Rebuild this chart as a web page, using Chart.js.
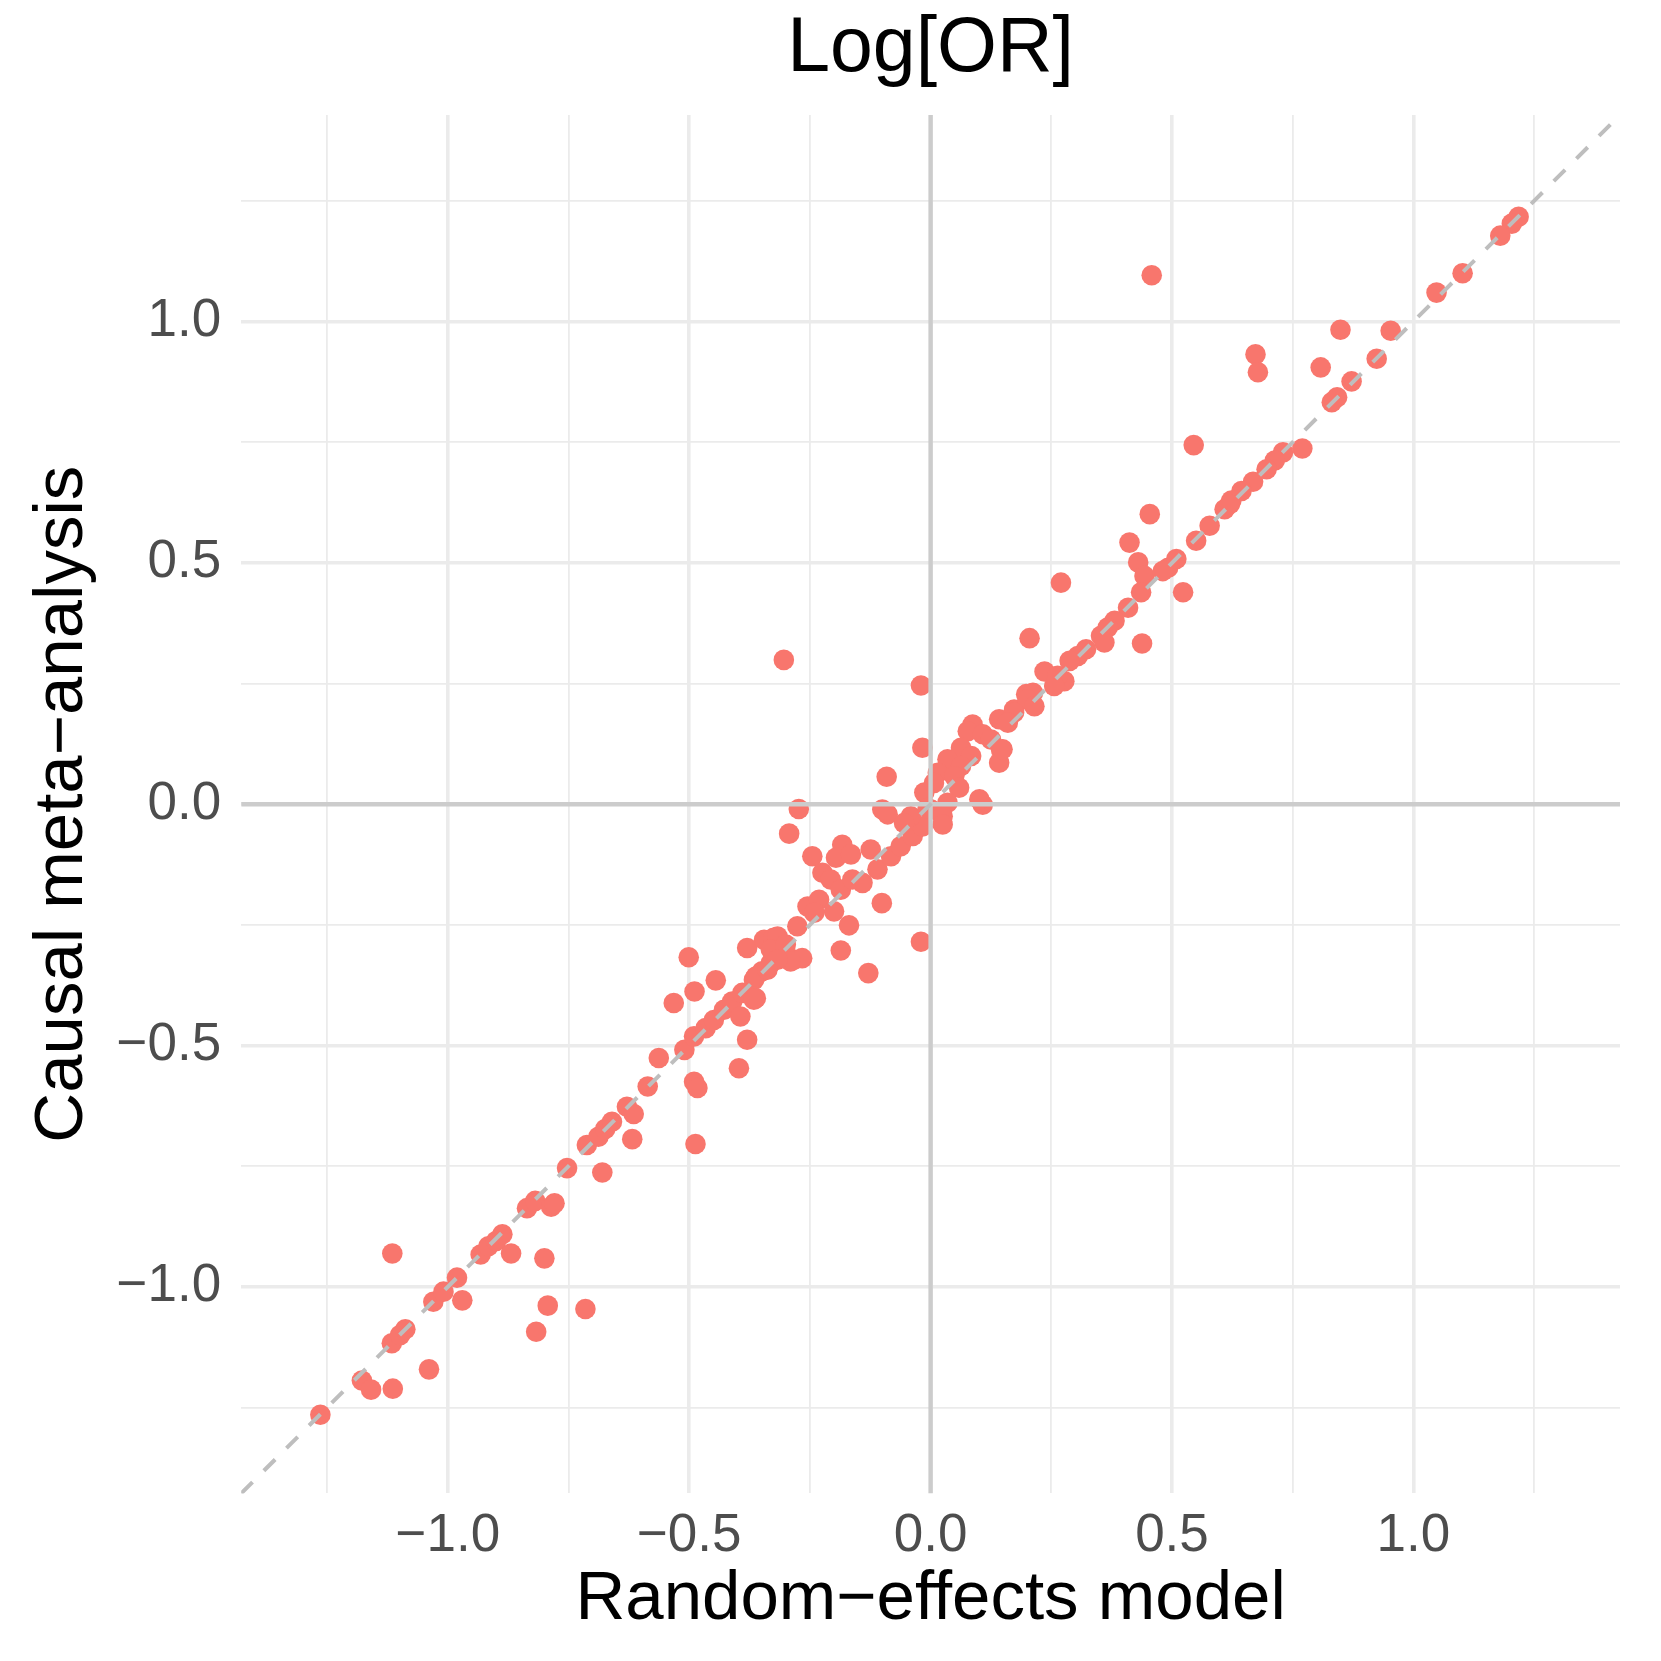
<!DOCTYPE html>
<html><head><meta charset="utf-8">
<script src="https://cdn.jsdelivr.net/npm/chart.js@4.4.0/dist/chart.umd.min.js"></script>
<style>html,body{margin:0;padding:0;background:#fff;}#wrap{width:1661px;height:1661px;}</style>
</head><body><div id="wrap"><canvas id="c" width="1661" height="1661"></canvas></div>
<script>
// Random-effects model estimates (x) and causal meta-analysis estimates (y), Log[OR]
const randomEffects = [
-1.264,-1.178,-1.159,-1.114,-1.115,-1.039,-1.116,-1.099,-1.088,-1.030,-1.009,-0.981,-0.970,-0.932,-0.916,-0.900,-0.887,-0.869,-0.836,-0.819,-0.786,-0.779,-0.800,-0.793,-0.817,-0.715,-0.753,-0.712,
-0.680,-0.688,-0.674,-0.660,-0.629,-0.615,-0.618,-0.586,-0.563,-0.532,-0.501,-0.489,-0.445,-0.510,-0.490,-0.466,-0.449,-0.490,-0.483,-0.487,-0.397,-0.380,-0.428,-0.411,-0.394,-0.390,-0.366,-0.366,-0.349,-0.331,-0.380,-0.345,-0.325,-0.311,-0.283,
-0.273,-0.293,-0.245,-0.183,-0.196,-0.165,-0.124,-0.100,-0.089,-0.091,-0.224,-0.207,-0.186,-0.162,-0.141,-0.110,-0.082,-0.062,-0.037,-0.017,0.001,-0.013,-0.255,-0.231,-0.200,-0.169,-0.101,-0.186,-0.129,-0.020,-0.317,-0.331,-0.300,-0.266,-0.290,-0.362,-0.362,-0.317,-0.338,-0.276,-0.241,
-0.020,-0.017,0.087,0.077,0.142,0.173,0.198,0.108,0.125,0.146,0.142,0.063,0.084,0.035,0.063,0.015,0.049,0.007,0.059,0.035,0.108,0.101,-0.041,-0.006,0.025,0.025,-0.055,
0.454,0.412,0.430,0.443,0.436,0.409,0.270,0.205,0.438,0.523,0.492,0.509,0.481,0.550,0.578,0.609,0.623,0.381,0.367,0.353,0.360,0.322,0.305,0.288,0.236,0.277,0.263,0.256,0.212,0.201,0.215,0.173,0.160,0.149,
1.218,1.204,1.180,1.102,1.048,0.953,0.849,0.924,0.872,0.842,0.831,0.808,0.673,0.678,0.545,0.770,0.730,0.713,0.696,0.668,0.644,0.620,0.458,-0.304
];
const causalMeta = [
-1.265,-1.194,-1.213,-1.211,-0.931,-1.171,-1.117,-1.100,-1.088,-1.031,-1.010,-0.981,-1.028,-0.933,-0.916,-0.905,-0.891,-0.931,-0.837,-0.822,-0.834,-0.827,-0.941,-1.039,-1.093,-1.046,-0.754,-0.706,
-0.763,-0.689,-0.673,-0.658,-0.627,-0.642,-0.694,-0.585,-0.526,-0.412,-0.317,-0.388,-0.365,-0.509,-0.481,-0.464,-0.447,-0.575,-0.588,-0.704,-0.547,-0.488,-0.426,-0.409,-0.440,-0.391,-0.405,-0.364,-0.346,-0.329,-0.298,-0.281,-0.277,-0.315,-0.322,
-0.010,-0.061,-0.108,-0.084,-0.111,-0.104,-0.094,-0.011,-0.021,0.057,-0.142,-0.156,-0.177,-0.156,-0.163,-0.135,-0.108,-0.087,-0.066,-0.046,-0.011,0.024,-0.212,-0.198,-0.222,-0.251,-0.205,-0.303,-0.350,-0.285,-0.274,-0.301,-0.291,-0.319,-0.326,-0.357,-0.402,-0.322,-0.343,-0.253,-0.225,
0.246,0.117,0.165,0.151,0.176,0.196,0.228,0.145,0.134,0.113,0.086,0.117,0.100,0.093,0.079,0.065,0.058,0.044,0.034,0.003,-0.001,0.010,-0.025,-0.008,-0.025,-0.042,-0.039,
0.601,0.542,0.501,0.473,0.439,0.407,0.459,0.344,0.333,0.439,0.490,0.508,0.483,0.546,0.577,0.611,0.629,0.380,0.366,0.349,0.335,0.321,0.307,0.297,0.275,0.255,0.266,0.245,0.231,0.217,0.203,0.190,0.169,0.114,
1.217,1.203,1.178,1.100,1.060,0.981,0.983,0.923,0.876,0.843,0.833,0.905,0.932,0.895,0.744,0.737,0.729,0.712,0.694,0.668,0.649,0.622,1.096,0.299
];
const axisLimits = [-1.428, 1.428];
const gridValues = [-1.25,-1,-0.75,-0.5,-0.25,0,0.25,0.5,0.75,1,1.25];
const majorTicks = [-1,-0.5,0,0.5,1];
const majorTickLabels = ['\u22121.0','\u22120.5','0.0','0.5','1.0'];
const titleText = 'Log[OR]';
const xTitle = 'Random\u2212effects model';
const yTitle = 'Causal meta\u2212analysis';

const FONT = "'Liberation Sans', Arial, Helvetica, sans-serif";
const isMajor = v => majorTicks.some(m => Math.abs(m - v) < 1e-9);
const tickLabel = v => { const i = majorTicks.findIndex(m => Math.abs(m - v) < 1e-9); return i >= 0 ? majorTickLabels[i] : ''; };

const points = randomEffects.map((x, i) => ({x: x, y: causalMeta[i]}));
const diag = axisLimits.map(v => ({x: v, y: v}));
const hZero = axisLimits.map(v => ({x: v, y: 0}));
const vZero = axisLimits.map(v => ({x: 0, y: v}));

function axis(isX) {
  return {
    type: 'linear',
    min: axisLimits[0], max: axisLimits[1],
    afterBuildTicks: s => { s.ticks = gridValues.map(v => ({value: v})); },
    afterFit: s => { if (isX) s.height = 167.6; else s.width = 241.2; },
    grid: {
      color: '#EBEBEB',
      lineWidth: c => (c.tick && isMajor(c.tick.value)) ? 3.6 : 1.8,
      drawTicks: false
    },
    border: {display: false},
    ticks: {
      callback: v => tickLabel(v),
      autoSkip: false, maxRotation: 0, minRotation: 0,
      padding: isX ? 11 : 20,
      color: '#4D4D4D',
      font: {family: FONT, size: 53}
    },
    title: {
      display: true,
      text: isX ? xTitle : yTitle,
      color: '#000000',
      font: {family: FONT, size: 69},
      padding: isX ? {top: 0, bottom: 19.2} : {top: 21.7, bottom: 0}
    }
  };
}

new Chart(document.getElementById('c'), {
  type: 'scatter',
  data: {
    datasets: [
      {type: 'line', data: diag, borderColor: '#BEBEBE', borderWidth: 4, borderDash: [16, 16], pointRadius: 0, fill: false, tension: 0, order: 0},
      {type: 'line', data: hZero, borderColor: '#CCCCCC', borderWidth: 4.4, pointRadius: 0, fill: false, tension: 0, order: 1},
      {type: 'line', data: vZero, borderColor: '#CCCCCC', borderWidth: 4.4, pointRadius: 0, fill: false, tension: 0, order: 1},
      {type: 'scatter', data: points, pointRadius: 10.3, pointBackgroundColor: '#F8766D', pointBorderWidth: 0, borderWidth: 0, order: 2}
    ]
  },
  options: {
    responsive: false,
    animation: false,
    events: [],
    layout: {padding: {top: 0, left: 0, right: 41, bottom: 0}},
    plugins: {
      legend: {display: false},
      tooltip: {enabled: false},
      title: {
        display: true,
        fullSize: false,
        text: titleText,
        color: '#000000',
        font: {family: FONT, size: 77, weight: 'normal'},
        padding: {top: 3.8, bottom: 18.8}
      }
    },
    scales: {x: axis(true), y: axis(false)}
  }
});
</script>
</body></html>
